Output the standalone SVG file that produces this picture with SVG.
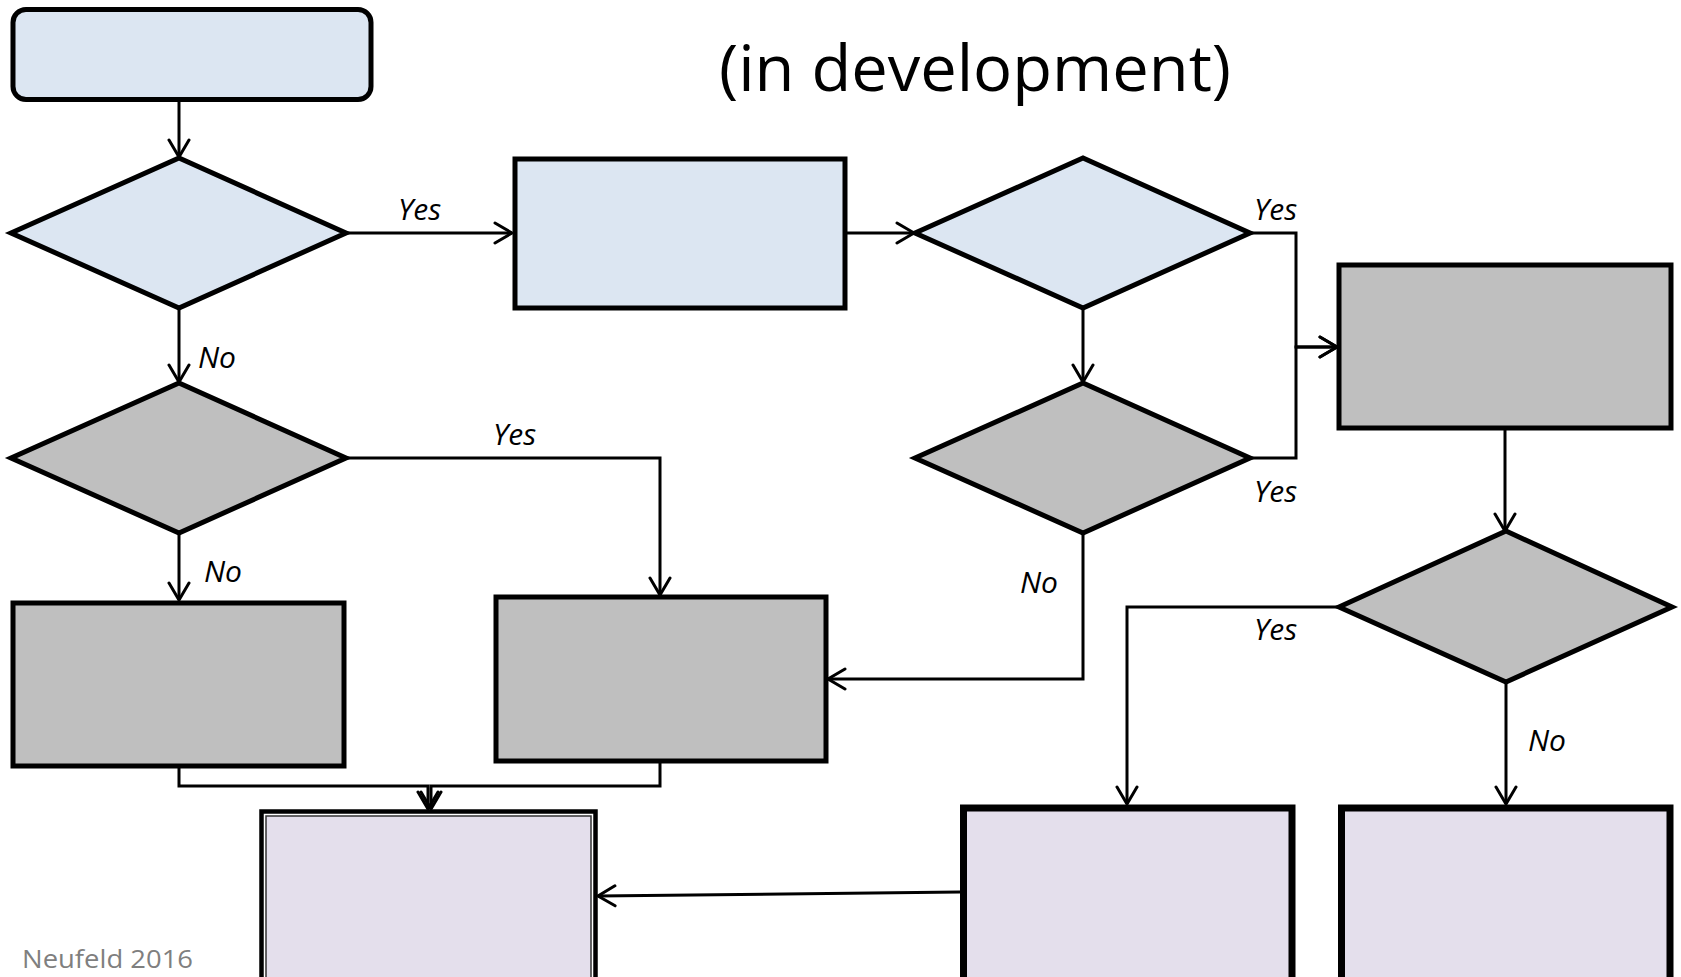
<svg xmlns="http://www.w3.org/2000/svg" width="1681" height="977" viewBox="0 0 1681 977">
<style>
.node{stroke:#000;stroke-width:5;stroke-linejoin:miter}
.blue{fill:#DCE6F2}
.gray{fill:#BFBFBF}
.lav{fill:#E4DFEC}
.thick{stroke-width:7}
.conn{fill:none;stroke:#000;stroke-width:3}
.lbl{font-family:"Open Sans","Liberation Sans",sans-serif;font-style:italic;font-size:30px;fill:#000}
.title{font-family:"Open Sans","Liberation Sans",sans-serif;font-size:64px;fill:#000}
.credit{font-family:"Open Sans","Liberation Sans",sans-serif;font-size:25px;fill:#7F7F7F}
</style>
<defs>
<marker id="arr" markerUnits="userSpaceOnUse" viewBox="0 0 22 24" refX="19" refY="12" markerWidth="22" markerHeight="24" orient="auto">
<path d="M2,2 L19,12 L2,22" fill="none" stroke="#000" stroke-width="3" stroke-linejoin="miter" stroke-linecap="round"/>
</marker>
</defs>
<rect width="1681" height="977" fill="#fff"/>
<text class="title" x="719" y="91" textLength="512" lengthAdjust="spacingAndGlyphs">(in development)</text>
<text class="credit" x="22" y="968" textLength="171" lengthAdjust="spacingAndGlyphs">Neufeld 2016</text>

<g id="connectors">
<path class="conn" marker-end="url(#arr)" d="M179,102 V157"/>
<path class="conn" marker-end="url(#arr)" d="M346,233 H512"/>
<path class="conn" marker-end="url(#arr)" d="M179,309 V382"/>
<path class="conn" marker-end="url(#arr)" d="M847,233 H914"/>
<path class="conn" marker-end="url(#arr)" d="M1250,233 H1296 V347 H1337"/>
<path class="conn" marker-end="url(#arr)" d="M1250,458 H1296 V347 H1337"/>
<path class="conn" marker-end="url(#arr)" d="M1083,309 V382"/>
<path class="conn" marker-end="url(#arr)" d="M346,458 H660 V595"/>
<path class="conn" marker-end="url(#arr)" d="M179,533 V600"/>
<path class="conn" marker-end="url(#arr)" d="M1083,533 V679 H828"/>
<path class="conn" marker-end="url(#arr)" d="M179,768 V786 H428 V809"/>
<path class="conn" marker-end="url(#arr)" d="M660,763 V786 H431 V809"/>
<path class="conn" marker-end="url(#arr)" d="M1505,430 V531"/>
<path class="conn" marker-end="url(#arr)" d="M1339,607 H1127 V804"/>
<path class="conn" marker-end="url(#arr)" d="M1506,682 V804"/>
<path class="conn" marker-end="url(#arr)" d="M960,892 L598,896"/>
</g>

<g id="labels">
<text class="lbl" x="398" y="220">Yes</text>
<text class="lbl" x="198" y="368">No</text>
<text class="lbl" x="493" y="445">Yes</text>
<text class="lbl" x="204" y="582">No</text>
<text class="lbl" x="1254" y="220">Yes</text>
<text class="lbl" x="1254" y="502">Yes</text>
<text class="lbl" x="1020" y="593">No</text>
<text class="lbl" x="1254" y="640">Yes</text>
<text class="lbl" x="1528" y="751">No</text>
</g>

<g id="start"><rect class="node blue" x="13" y="9.5" width="358" height="90" rx="13"/></g>
<g id="d1"><polygon class="node blue" points="11,233 179,158 346,233 179,308"/></g>
<g id="b2"><rect class="node blue" x="515" y="159" width="330" height="149"/></g>
<g id="d3"><polygon class="node blue" points="915,233 1083,158 1250,233 1083,308"/></g>
<g id="d2"><polygon class="node gray" points="11,458 179,383 346,458 179,533"/></g>
<g id="d4"><polygon class="node gray" points="915,458 1083,383 1250,458 1083,533"/></g>
<g id="b5"><rect class="node gray" x="1339" y="265" width="332" height="163"/></g>
<g id="b6"><rect class="node gray" x="13" y="603" width="331" height="163"/></g>
<g id="b7"><rect class="node gray" x="496" y="597" width="330" height="164"/></g>
<g id="d5"><polygon class="node gray" points="1339,607 1506,531 1672,607 1506,682"/></g>
<g id="b8">
<rect x="261.5" y="811.5" width="334" height="220" fill="#fff" stroke="#000" stroke-width="4.5"/>
<rect x="266" y="816" width="325" height="210" class="lav" stroke="#333" stroke-width="1.5"/>
</g>
<g id="b9"><rect class="node lav thick" x="963.5" y="808" width="328.5" height="200"/></g>
<g id="b10"><rect class="node lav thick" x="1341.5" y="808" width="328.5" height="200"/></g>
</svg>
